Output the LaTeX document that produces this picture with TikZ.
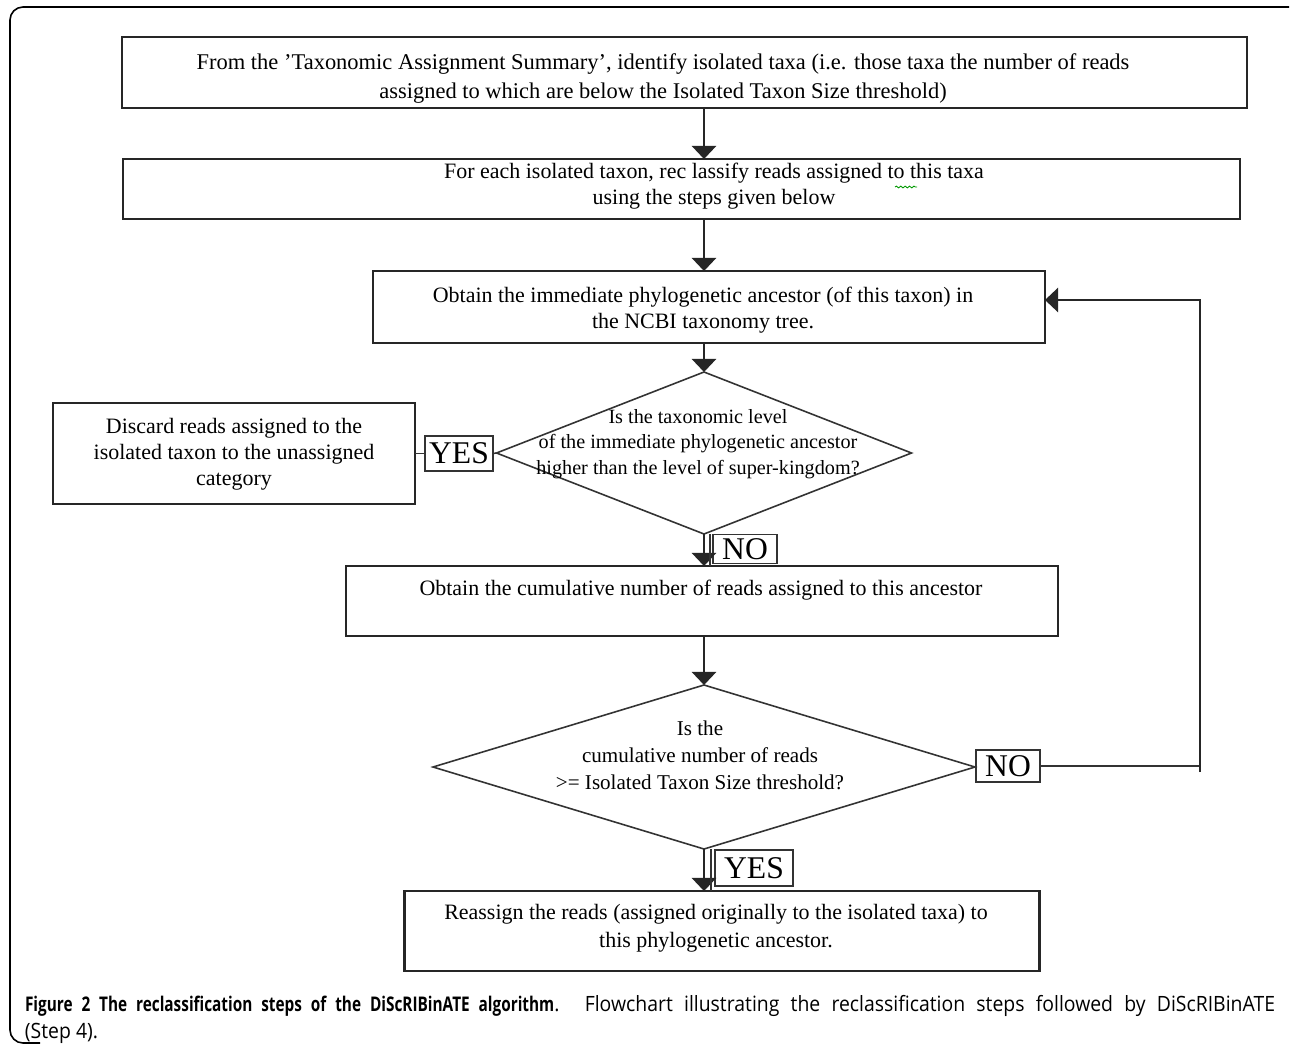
\documentclass[tikz,border=0pt]{standalone}
\usepackage{fontspec}
\setmainfont{Liberation Serif}
\newfontfamily\capfont[FakeStretch=0.92]{Open Sans}
\newfontfamily\capbold[FakeStretch=0.76]{Open Sans}
\usetikzlibrary{shapes.geometric,arrows.meta,calc,decorations.pathmorphing}
\begin{document}
\begin{tikzpicture}[x=0.02cm,y=-0.02cm,
  every node/.style={inner sep=0pt, outer sep=0pt},
  boxx/.style={draw=black!85, line width=1.2pt},
  thinl/.style={draw=black!80, line width=0.85pt},
  tag/.style={draw=black!80, line width=0.9pt, font=\fontsize{18}{18}\selectfont},
  txt/.style={align=center, font=\fontsize{12.5}{15}\selectfont},
  arr/.style={-{Triangle[width=14pt,length=7.5pt]}, line width=0.85pt, draw=black!85},
  dia/.style={diamond, draw=black!80, line width=0.9pt}]
\fill[white] (0,0) rectangle (1290,1045);
\useasboundingbox (0,0) rectangle (1290,1045);
% frame
\draw[line width=0.9pt, rounded corners=0.26cm] (1289,7) -- (10,7) -- (10,1043) -- (40,1043);

% boxes
\node[boxx, minimum width={1125*0.02cm}, minimum height={71*0.02cm}] (b1) at (684.5,72.5) {};
\node[txt, font=\fontsize{12.8}{16.5}\selectfont] (t1) at (663,78.5) {From the 'Taxonomic Assignment Summary', identify isolated taxa (i.e. those taxa the number of reads\\assigned to which are below the Isolated Taxon Size threshold)};

\node[boxx, minimum width={1117*0.02cm}, minimum height={60*0.02cm}] (b2) at (681.5,189) {};
\node[txt, font=\fontsize{12.5}{14.5}\selectfont] (t2) at (714,186) {For each isolated taxon, rec lassify reads assigned to this taxa\\using the steps given below};

\node[boxx, minimum width={672*0.02cm}, minimum height={72*0.02cm}] (b3) at (709,307) {};
\node[txt, font=\fontsize{12.5}{14.8}\selectfont] (t3) at (703,310) {Obtain the immediate phylogenetic ancestor (of this taxon) in\\the NCBI taxonomy tree.};

\node[dia, minimum width={415*0.02cm}, minimum height={162*0.02cm}] (d1) at (704,453) {};
\node[txt, font=\fontsize{11.5}{14.5}\selectfont] (t4) at (698,444) {Is the taxonomic level\\of the immediate phylogenetic ancestor\\higher than the level of super-kingdom?};

\node[boxx, minimum width={362*0.02cm}, minimum height={101*0.02cm}] (disc) at (234,453.5) {};
\node[txt, font=\fontsize{12.5}{14.8}\selectfont] (t5) at (234,454) {Discard reads assigned to the\\isolated taxon to the unassigned\\category};

\node[tag, minimum width={68*0.02cm}, minimum height={35*0.02cm}] (yes1) at (459,453.5) {YES};
\node[tag, minimum width={64*0.02cm}, minimum height={29*0.02cm}] (no1) at (745,549) {NO};

\node[boxx, minimum width={712*0.02cm}, minimum height={70*0.02cm}] (b4) at (702,601) {};
\node[txt] (t6) at (701,590) {Obtain the cumulative number of reads assigned to this ancestor};

\node[dia, minimum width={542*0.02cm}, minimum height={164*0.02cm}] (d2) at (704,767) {};
\node[txt, font=\fontsize{12}{15.4}\selectfont] (t7) at (700,755) {Is the\\cumulative number of reads\\>= Isolated Taxon Size threshold?};

\node[tag, minimum width={64*0.02cm}, minimum height={32*0.02cm}] (no2) at (1008,766) {NO};
\node[tag, minimum width={78*0.02cm}, minimum height={36*0.02cm}] (yes2) at (754,868) {YES};

\node[boxx, minimum width={635*0.02cm}, minimum height={80*0.02cm}] (b5) at (722,931) {};
\node[txt, font=\fontsize{12.5}{16}\selectfont] (t8) at (716,928) {Reassign the reads (assigned originally to the isolated taxa) to\\this phylogenetic ancestor.};

% connectors
\draw[arr] (b1.south -| d1.north) -- (b2.north -| d1.north);
\draw[arr] (b2.south -| d1.north) -- (b3.north -| d1.north);
\draw[arr] (b3.south -| d1.north) -- (d1.north);
\draw[thinl] (disc.east) -- (yes1.west);
\draw[thinl] (yes1.east) -- (d1.west);
\draw[arr] (d1.south) -- (b4.north -| d1.south);
\draw[thinl] ($(d1.south)+(6,0)$) -- ($(b4.north -| d1.south)+(6,0)$);
\draw[arr] (b4.south -| d2.north) -- (d2.north);
\draw[arr] (d2.south) -- (b5.north -| d2.south);
\draw[thinl] ($(d2.south)+(7,0)$) -- ($(b5.north -| d2.south)+(7,0)$);
\draw[thinl] (d2.east) -- (no2.west);
\coordinate (rc) at (1200,766);
\coordinate (rb) at (1200,772);
\coordinate (rt) at (1200,300);
\draw[thinl] (no2.east) -- (rc);
\draw[arr] (rb) -- (rt) -- (rt -| b3.east);

% spell-check squiggle
\draw[green!60!black, line width=0.5pt, decorate, decoration={snake,amplitude=0.5pt,segment length=2.5pt}] (895,187) -- (917,187);

% caption
\node[anchor=north west, text width={1250*0.02cm}, align=justify, font=\capfont\fontsize{12}{15.8}\selectfont] (cap) at (25,995) {{\capbold\bfseries\fontsize{11.5}{15.8}\selectfont Figure 2 The reclassification steps of the DiScRIBinATE algorithm}. Flowchart illustrating the reclassification steps followed by DiScRIBinATE\linebreak (Step 4).};
\end{tikzpicture}
\end{document}
